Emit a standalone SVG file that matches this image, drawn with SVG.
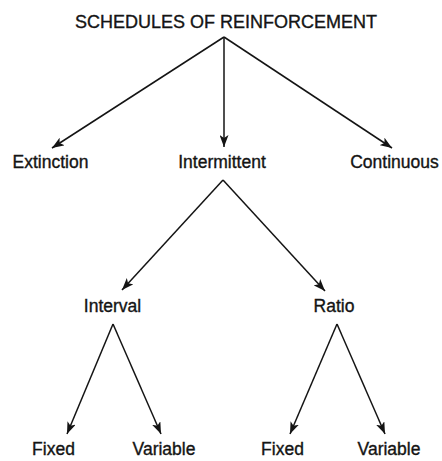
<svg xmlns="http://www.w3.org/2000/svg" width="442" height="461" viewBox="0 0 442 461">
  <style>
    .lbl { font-family: "Liberation Sans", Arial, sans-serif; font-size: 17.5px; fill: #141414; stroke: #141414; stroke-width: 0.35; text-anchor: middle; }
    .title { font-size: 18px; }
    .edge { stroke: #141414; stroke-width: 1.5; fill: none; marker-end: url(#arrow); }
  </style>
  <defs>
    <marker id="arrow" markerUnits="userSpaceOnUse" markerWidth="13" markerHeight="9" refX="12" refY="4.5" orient="auto">
      <path d="M0,0 L12,4.5 L0,9 L3,4.5 Z" fill="#141414"/>
    </marker>
  </defs>
  <rect width="442" height="461" fill="#ffffff"/>
  <g id="connectors">
    <line class="edge" x1="224" y1="37" x2="52" y2="148"/>
    <line class="edge" x1="224" y1="37" x2="224" y2="147"/>
    <line class="edge" x1="224" y1="37" x2="392" y2="148"/>
    <line class="edge" x1="223" y1="180" x2="122" y2="290"/>
    <line class="edge" x1="223" y1="180" x2="325" y2="291"/>
    <line class="edge" x1="113" y1="324" x2="67" y2="434"/>
    <line class="edge" x1="113" y1="324" x2="161" y2="434"/>
    <line class="edge" x1="337" y1="324" x2="290" y2="434"/>
    <line class="edge" x1="337" y1="324" x2="385" y2="434"/>
  </g>
  <g id="schedules"><text class="lbl title" x="226" y="28">SCHEDULES OF REINFORCEMENT</text></g>
  <g id="extinction"><text class="lbl" x="50.5" y="168">Extinction</text></g>
  <g id="intermittent"><text class="lbl" x="222" y="168">Intermittent</text></g>
  <g id="continuous"><text class="lbl" x="394.5" y="168">Continuous</text></g>
  <g id="interval"><text class="lbl" x="112.5" y="312">Interval</text></g>
  <g id="ratio"><text class="lbl" x="334" y="312">Ratio</text></g>
  <g id="interval-fixed"><text class="lbl" x="53.5" y="455">Fixed</text></g>
  <g id="interval-variable"><text class="lbl" x="164" y="455">Variable</text></g>
  <g id="ratio-fixed"><text class="lbl" x="282.5" y="455">Fixed</text></g>
  <g id="ratio-variable"><text class="lbl" x="389" y="455">Variable</text></g>
</svg>
